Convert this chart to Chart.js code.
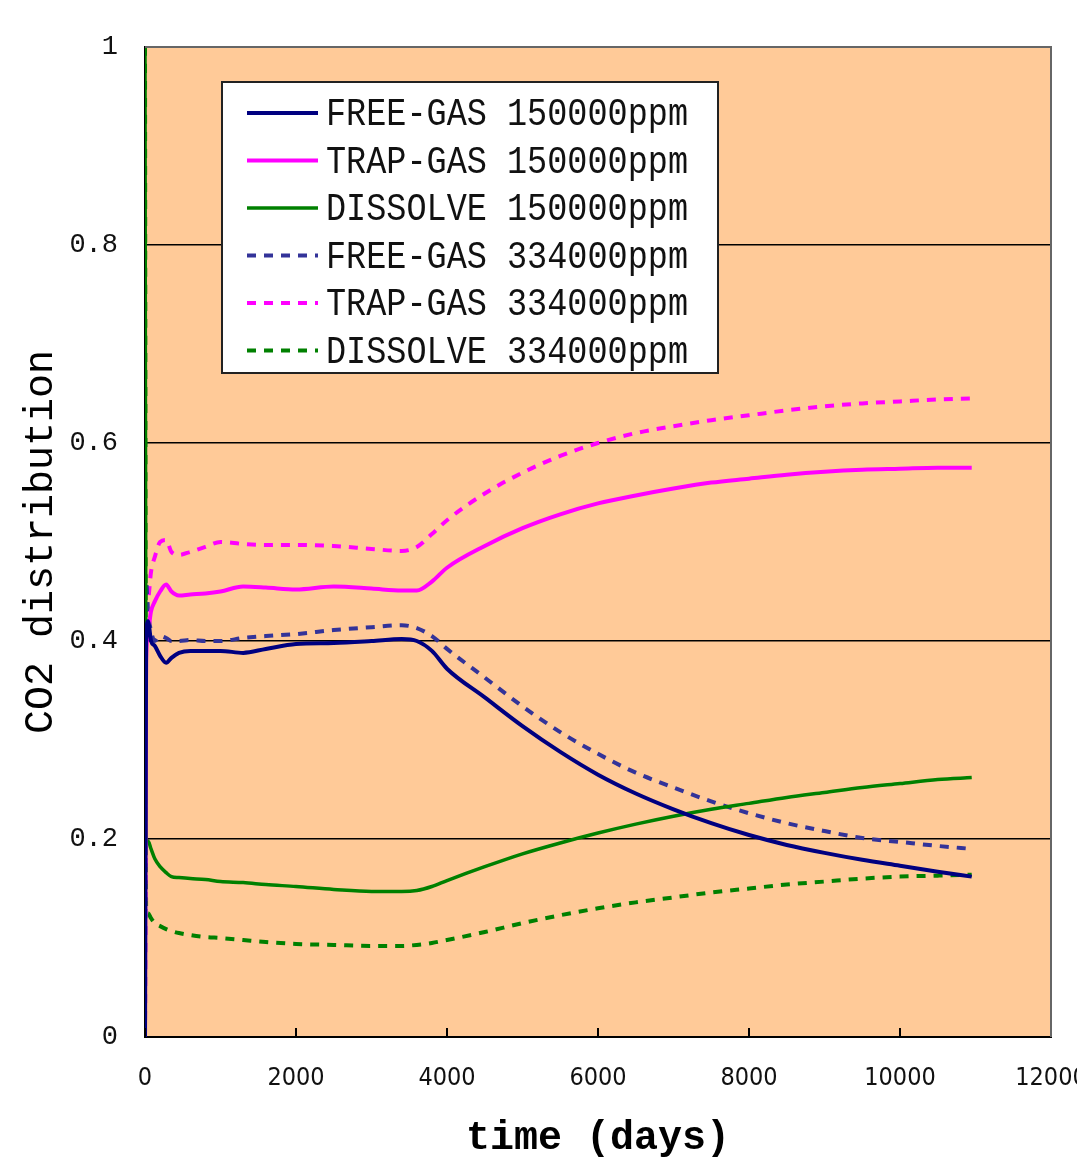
<!DOCTYPE html>
<html>
<head>
<meta charset="utf-8">
<script src="https://cdn.jsdelivr.net/npm/chart.js@4.4.1/dist/chart.umd.min.js"></script>
<style>
  html, body { margin: 0; padding: 0; background: #fff; }
  #wrap { width: 1077px; height: 1163px; }
</style>
</head>
<body>
<div id="wrap"><canvas id="myChart" width="1077" height="1163"></canvas></div>
<script>
// time axis (days) shared by all series
var days = [0, 15, 40, 80, 130, 200, 280, 350, 450, 600, 800, 1000, 1300, 1600, 2000, 2500, 3000, 3400, 3600, 3800,
    4000, 4500, 5000, 5500, 6000, 6500, 7000, 7500, 8000, 8500, 9000, 9500, 10000, 10500, 10950];

var freeGas150 = [0, 0.40, 0.42, 0.40, 0.395, 0.385, 0.378, 0.383, 0.388, 0.390, 0.390, 0.390, 0.388, 0.392, 0.397, 0.398, 0.400, 0.402, 0.400, 0.390,
    0.372, 0.343, 0.314, 0.288, 0.265, 0.246, 0.230, 0.216, 0.204, 0.194, 0.186, 0.179, 0.173, 0.167, 0.162];
var trapGas150 = [0, 0.38, 0.41, 0.43, 0.44, 0.45, 0.457, 0.45, 0.446, 0.447, 0.448, 0.450, 0.455, 0.454, 0.452, 0.455, 0.453, 0.451, 0.451, 0.460,
    0.474, 0.496, 0.514, 0.528, 0.539, 0.547, 0.554, 0.560, 0.564, 0.568, 0.571, 0.573, 0.574, 0.575, 0.575];
var dissolve150 = [1.0, 0.20, 0.198, 0.19, 0.18, 0.172, 0.166, 0.162, 0.161, 0.160, 0.159, 0.157, 0.156, 0.154, 0.152, 0.149, 0.147, 0.147, 0.148, 0.152,
    0.158, 0.172, 0.185, 0.196, 0.206, 0.215, 0.223, 0.230, 0.236, 0.242, 0.247, 0.252, 0.256, 0.260, 0.262];
var freeGas334 = [0, 0.46, 0.43, 0.41, 0.40, 0.405, 0.403, 0.40, 0.40, 0.401, 0.40, 0.40, 0.403, 0.405, 0.407, 0.411, 0.414, 0.416, 0.413, 0.405,
    0.392, 0.363, 0.334, 0.308, 0.286, 0.267, 0.252, 0.238, 0.226, 0.216, 0.208, 0.201, 0.197, 0.193, 0.19];
var trapGas334 = [0, 0.40, 0.44, 0.47, 0.485, 0.50, 0.502, 0.49, 0.487, 0.49, 0.495, 0.50, 0.498, 0.497, 0.497, 0.496, 0.493, 0.491, 0.495, 0.508,
    0.522, 0.549, 0.57, 0.587, 0.60, 0.61, 0.617, 0.623, 0.628, 0.633, 0.637, 0.64, 0.642, 0.644, 0.645];
var dissolve334 = [1.0, 0.13, 0.125, 0.12, 0.115, 0.112, 0.109, 0.107, 0.105, 0.103, 0.101, 0.10, 0.098, 0.096, 0.094, 0.093, 0.092, 0.092, 0.093, 0.095,
    0.098, 0.106, 0.115, 0.123, 0.13, 0.136, 0.141, 0.146, 0.15, 0.154, 0.157, 0.16, 0.162, 0.163, 0.164];

var seriesLabels = ["FREE-GAS 150000ppm", "TRAP-GAS 150000ppm", "DISSOLVE 150000ppm",
    "FREE-GAS 334000ppm", "TRAP-GAS 334000ppm", "DISSOLVE 334000ppm"];
var xTickLabels = ["0", "2000", "4000", "6000", "8000", "10000", "12000"];
var yTickLabels = ["0", "0.2", "0.4", "0.6", "0.8", "1"];

function pts(vals) {
    return vals.map(function(v, i) { return { x: days[i], y: v }; });
}

// peach plot background + inward x tick marks + border
var plotDecor = {
    id: 'plotDecor',
    beforeDraw: function(chart) {
        var a = chart.chartArea, c = chart.ctx;
        c.save();
        c.fillStyle = '#FFCA98';
        c.fillRect(a.left, a.top, a.right - a.left, a.bottom - a.top);
        c.restore();
    },
    afterDatasetsDraw: function(chart) {
        var a = chart.chartArea, c = chart.ctx, xs = chart.scales.x;
        c.save();
        c.strokeStyle = '#000';
        c.lineWidth = 2;
        xs.ticks.forEach(function(t) {
            var px = xs.getPixelForValue(t.value);
            c.beginPath();
            c.moveTo(px, a.bottom);
            c.lineTo(px, a.bottom - 9);
            c.stroke();
        });
        // right + top frame
        c.strokeStyle = '#666';
        c.lineWidth = 2;
        c.beginPath();
        c.moveTo(a.left, a.top);
        c.lineTo(a.right, a.top);
        c.lineTo(a.right, a.bottom);
        c.stroke();
        c.restore();
    }
};

// legend box drawn inside the plot
var boxLegend = {
    id: 'boxLegend',
    afterDraw: function(chart) {
        var c = chart.ctx;
        var bx = 222, by = 82, bw = 496, bh = 291;
        c.save();
        c.fillStyle = '#fff';
        c.fillRect(bx, by, bw, bh);
        c.strokeStyle = '#222';
        c.lineWidth = 2;
        c.strokeRect(bx, by, bw, bh);
        c.font = '38px "Liberation Mono", "DejaVu Sans Mono", monospace';
        c.textBaseline = 'middle';
        c.fillStyle = '#111';
        chart.data.datasets.forEach(function(ds, i) {
            var y = 113 + i * 47.5;
            c.strokeStyle = ds.borderColor;
            c.lineWidth = ds.borderWidth;
            c.setLineDash(ds.borderDash || []);
            c.beginPath();
            c.moveTo(247, y);
            c.lineTo(318, y);
            c.stroke();
            c.setLineDash([]);
            c.fillText(ds.label, 326, y + 2, 362);
        });
        c.restore();
    }
};

window.addEventListener('load', function() {
    var ctx = document.getElementById('myChart').getContext('2d');
    var myLineChart = new Chart(ctx, {
        type: 'line',
        data: {
            datasets: [
                { label: seriesLabels[0], data: pts(freeGas150), borderColor: '#000080', borderWidth: 4 },
                { label: seriesLabels[1], data: pts(trapGas150), borderColor: '#FF00FF', borderWidth: 4 },
                { label: seriesLabels[2], data: pts(dissolve150), borderColor: '#008000', borderWidth: 3.5 },
                { label: seriesLabels[3], data: pts(freeGas334), borderColor: '#333399', borderWidth: 4, borderDash: [9, 8] },
                { label: seriesLabels[4], data: pts(trapGas334), borderColor: '#FF00FF', borderWidth: 4, borderDash: [9, 8] },
                { label: seriesLabels[5], data: pts(dissolve334), borderColor: '#008000', borderWidth: 4, borderDash: [9, 8] }
            ]
        },
        options: {
            responsive: false,
            animation: false,
            elements: { point: { radius: 0 }, line: { tension: 0.3, cubicInterpolationMode: 'monotone' } },
            layout: { padding: { top: 47, right: 26, left: 0, bottom: 0 } },
            plugins: { legend: { display: false }, tooltip: { enabled: false } },
            scales: {
                x: {
                    type: 'linear',
                    min: 0, max: 12000,
                    afterFit: function(s) { s.height = 126; s.paddingRight = 0; s.paddingLeft = 0; },
                    ticks: {
                        stepSize: 2000,
                        padding: 26,
                        color: '#111',
                        maxRotation: 0,
                        callback: function(v, i) { return xTickLabels[i]; },
                        font: { family: '"Liberation Sans Narrow", "DejaVu Sans Condensed", sans-serif', size: 25 }
                    },
                    grid: { drawOnChartArea: false, drawTicks: false },
                    border: { color: '#000', width: 2 },
                    title: {
                        display: true,
                        text: 'time (days)',
                        color: '#000',
                        padding: { top: 0, bottom: 0 },
                        font: { family: '"Liberation Mono", "DejaVu Sans Mono", monospace', size: 40, weight: 'bold' }
                    }
                },
                y: {
                    min: 0, max: 1,
                    afterFit: function(s) { s.width = 145; s.paddingTop = 0; s.paddingBottom = 0; },
                    ticks: {
                        stepSize: 0.2,
                        padding: 27,
                        color: '#111',
                        callback: function(v, i) { return yTickLabels[i]; },
                        font: { family: '"Liberation Mono", "DejaVu Sans Mono", monospace', size: 27 }
                    },
                    grid: {
                        drawTicks: false,
                        color: function(c) { return c.tick && c.tick.value === 1 ? '#666' : '#000'; },
                        lineWidth: 1.5
                    },
                    border: { color: '#000', width: 2 },
                    title: {
                        display: true,
                        text: 'CO2 distribution',
                        color: '#000',
                        padding: { top: 17, bottom: 0 },
                        font: { family: '"Liberation Mono", "DejaVu Sans Mono", monospace', size: 40 }
                    }
                }
            }
        },
        plugins: [plotDecor, boxLegend]
    });
});
</script>
</body>
</html>
